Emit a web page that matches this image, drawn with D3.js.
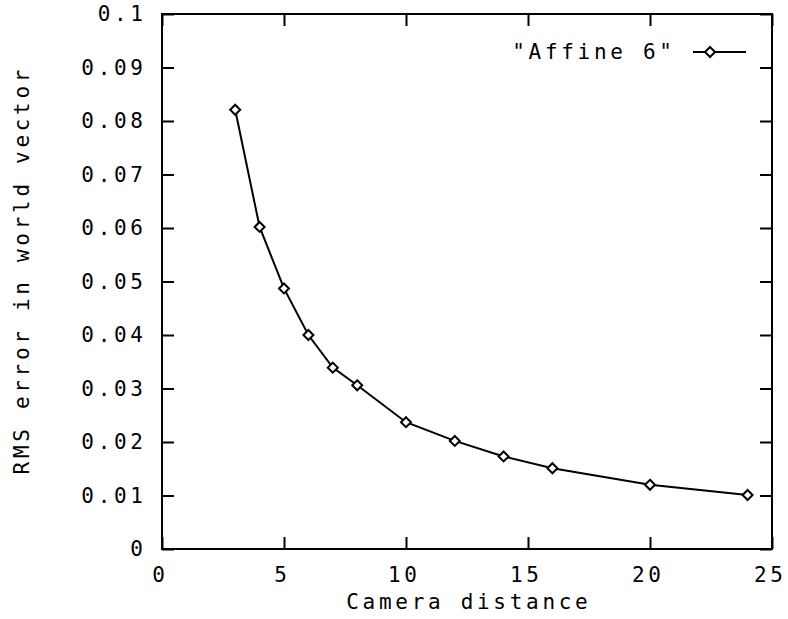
<!DOCTYPE html>
<meta charset="utf-8">
<script src="https://d3js.org/d3.v7.min.js"></script>
<style>
  body { margin: 0; background: #fff; }
  text { font-family: "DejaVu Sans Mono", monospace; font-size: 21px; letter-spacing: 3.7px; fill: #000; }
</style>
<div id="chart"></div>
<script>
// Data
var distance = [3, 4, 5, 6, 7, 8, 10, 12, 14, 16, 20, 24];
var rmsError = [0.0821, 0.0602, 0.0487, 0.0400, 0.0339, 0.0306, 0.0237, 0.0202, 0.0173, 0.0151, 0.0120, 0.0101];
var xTicks = [0, 5, 10, 15, 20, 25];
var yTicks = [0, 0.01, 0.02, 0.03, 0.04, 0.05, 0.06, 0.07, 0.08, 0.09, 0.1];
var yTickLabels = ["0", "0.01", "0.02", "0.03", "0.04", "0.05", "0.06", "0.07", "0.08", "0.09", "0.1"];
var seriesName = "\"Affine 6\"";

var W = 788, H = 619;
var plotL = 162, plotR = 772, plotT = 14, plotB = 549;
var ls = 3.7; // letter spacing, trailing space shifts anchored text

var svg = d3.select("#chart").append("svg")
    .attr("width", W)
    .attr("height", H);

var x = d3.scaleLinear().domain([0, 25]).range([plotL, plotR]);
var y = d3.scaleLinear().domain([0, 0.1]).range([plotB, plotT]);

function styleAxis(g) {
  g.select(".domain").remove();
  g.selectAll(".tick line").attr("stroke", "#000").attr("stroke-width", 2);
  g.selectAll(".tick text").attr("font-family", null).attr("font-size", null);
}

// left axis with labels, ticks pointing inward
svg.append("g")
    .attr("transform", "translate(" + plotL + ",0)")
    .call(d3.axisLeft(y).tickValues(yTicks).tickSize(-12).tickPadding(19 - ls)
      .tickFormat(function(d, i) { return yTickLabels[i]; }))
    .call(styleAxis);

// right mirror ticks
svg.append("g")
    .attr("transform", "translate(" + plotR + ",0)")
    .call(d3.axisRight(y).tickValues(yTicks).tickSize(-12).tickFormat(""))
    .call(styleAxis);

// bottom axis with labels
svg.append("g")
    .attr("transform", "translate(0," + plotB + ")")
    .call(d3.axisBottom(x).tickValues(xTicks).tickSize(-12).tickPadding(18))
    .call(styleAxis)
    .selectAll(".tick text").attr("dx", ls / 2 - 4);

// top mirror ticks
svg.append("g")
    .attr("transform", "translate(0," + plotT + ")")
    .call(d3.axisTop(x).tickValues(xTicks).tickSize(-12).tickFormat(""))
    .call(styleAxis);

// frame
svg.append("rect")
    .attr("x", plotL)
    .attr("y", plotT)
    .attr("width", plotR - plotL)
    .attr("height", plotB - plotT)
    .attr("fill", "none")
    .attr("stroke", "#000")
    .attr("stroke-width", 2);

// axis titles
svg.append("text")
    .attr("x", (plotL + plotR) / 2 + ls / 2)
    .attr("y", 609)
    .attr("text-anchor", "middle")
    .text("Camera distance");

svg.append("text")
    .attr("transform", "translate(29,272) rotate(-90)")
    .attr("text-anchor", "middle")
    .attr("dx", ls / 2)
    .text("RMS error in world vector");

// line
var line = d3.line()
    .x(function(d, i) { return x(distance[i]); })
    .y(function(d) { return y(d); });

svg.append("path")
    .datum(rmsError)
    .attr("d", line)
    .attr("fill", "none")
    .attr("stroke", "#000")
    .attr("stroke-width", 2);

var diamond = "M0,-5L5,0L0,5L-5,0Z";

svg.selectAll(".pt")
    .data(rmsError)
  .enter().append("path")
    .attr("class", "pt")
    .attr("transform", function(d, i) { return "translate(" + x(distance[i]) + "," + y(d) + ")"; })
    .attr("d", diamond)
    .attr("fill", "#fff")
    .attr("stroke", "#000")
    .attr("stroke-width", 2);

// legend
var legY = 52;
svg.append("text")
    .attr("x", 672 + ls)
    .attr("y", legY)
    .attr("dy", "0.35em")
    .attr("text-anchor", "end")
    .text(seriesName);

svg.append("line")
    .attr("x1", 693).attr("x2", 746)
    .attr("y1", legY).attr("y2", legY)
    .attr("stroke", "#000")
    .attr("stroke-width", 2);

svg.append("path")
    .attr("transform", "translate(710," + legY + ")")
    .attr("d", diamond)
    .attr("fill", "#fff")
    .attr("stroke", "#000")
    .attr("stroke-width", 2);
</script>
